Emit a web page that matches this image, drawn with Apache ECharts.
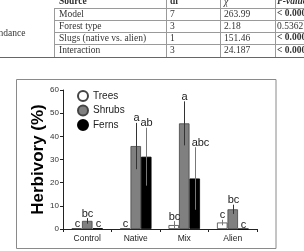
<!DOCTYPE html>
<html>
<head>
<meta charset="utf-8">
<script src="https://cdn.jsdelivr.net/npm/echarts@6/dist/echarts.min.js"></script>
<style>
  html, body { margin: 0; padding: 0; background: #fff; }
  .demo { width: 304px; height: 251px; }
</style>
</head>
<body>
<div class="demo"></div>
<script>
// chart data
const categories = ['Control', 'Native', 'Mix', 'Alien']
const groups = ['Trees', 'Shrubs', 'Ferns']
const treesMean = [0.3, 0.2, 1.7, 2.8]
const treesErr = [0, 0, 1.7, 1.2]
const shrubsMean = [3.5, 35.8, 45.6, 8.5]
const shrubsErr = [1.2, 10, 9.5, 2]
const fernsMean = [0.3, 31.2, 21.8, 0]
const fernsErr = [0, 12.5, 13.5, 0]
const treesLetters = ['c', 'c', 'bc', 'c']
const shrubsLetters = ['bc', 'a', 'a', 'bc']
const fernsLetters = ['c', 'ab', 'abc', 'c']
const yTicks = [0, 10, 20, 30, 40, 50, 60]

// table (cropped at top of the picture)
const tableHeader = ['Source', 'df', 'χ', 'P-value']
const tableSource = ['Model', 'Forest type', 'Slugs (native vs. alien)', 'Interaction']
const tableDf = ['7', '3', '1', '3']
const tableChi = ['263.99', '2.18', '151.46', '24.187']
const tableP = ['< 0.0001', '0.5362', '< 0.0001', '< 0.0001']

;(function () {
  const chartinstance = echarts.init(document.querySelector('.demo'))
  const means = [treesMean, shrubsMean, fernsMean]
  const errs = [treesErr, shrubsErr, fernsErr]
  const letters = [treesLetters, shrubsLetters, fernsLetters]
  const fills = ['#ffffff', '#808080', '#000000']
  const borders = ['#444', '#444', '#000']
  const barW = 10.5
  const sans = 'Liberation Sans'

  // table drawn with graphic elements
  const colX = [59, 170, 224, 277]
  const rowY = [2, 14, 26, 38, 50.5]
  const tableGraphic = []
  const line = (x1, y1, x2, y2, w, c) => tableGraphic.push({
    type: 'line', silent: true,
    shape: { x1: x1, y1: y1, x2: x2, y2: y2 },
    style: { stroke: c || '#9a9a9a', lineWidth: w || 1 }
  })
  const txt = (s, x, y, weight, italic, align) => tableGraphic.push({
    type: 'text', silent: true, x: x, y: y,
    style: {
      text: s, fontSize: 9.5, fontFamily: 'Liberation Serif',
      fontWeight: weight ? 'bold' : 'normal', fontStyle: italic ? 'italic' : 'normal',
      fill: '#333', align: align || 'left', verticalAlign: 'middle'
    }
  })
  ;[8, 20, 32, 44].forEach(y => line(54, y + 0.5, 304, y + 0.5))
  line(0, 57.5, 304, 57.5, 1.2, '#666')
  line(54.5, 8, 54.5, 57)
  line(166.5, 0, 166.5, 57)
  line(220.5, 0, 220.5, 57)
  line(275.5, 0, 275.5, 57)
  txt(tableHeader[0], colX[0], rowY[0], true, false)
  txt(tableHeader[1], colX[1], rowY[0], true, false)
  txt(tableHeader[2], colX[2], rowY[0], false, true)
  txt(tableHeader[3], colX[3], rowY[0], true, true)
  txt('Abundance', 25.5, 33, false, false, 'right')
  for (let i = 0; i < tableSource.length; i++) {
    txt(tableSource[i], colX[0], rowY[i + 1])
    txt(tableDf[i], colX[1], rowY[i + 1])
    txt(tableChi[i], colX[2], rowY[i + 1])
    txt(tableP[i], colX[3], rowY[i + 1], tableP[i].indexOf('<') === 0, false)
  }
  // chart frame
  tableGraphic.push({
    type: 'rect', silent: true, z: -1,
    shape: { x: 16.5, y: 79.5, width: 259.5, height: 169 },
    style: { fill: 'none', stroke: '#8a8a8a', lineWidth: 1 }
  })

  const barSeries = groups.map((g, k) => ({
    name: g,
    type: 'bar',
    barWidth: barW,
    barGap: '0%',
    data: means[k],
    itemStyle: { color: fills[k], borderColor: borders[k], borderWidth: 0.8 },
    z: 2
  }))

  const errSeries = groups.map((g, k) => ({
    name: g + ' err',
    type: 'custom',
    z: 5,
    data: categories.map((c, i) => [i, means[k][i], errs[k][i]]),
    renderItem: function (params, api) {
      const i = api.value(0)
      const m = api.value(1)
      const e = api.value(2)
      const x = Math.round(api.coord([i, 0])[0] + (k - 1) * barW) + 0.5
      const yTop = api.coord([i, m + e])[1]
      const yBot = api.coord([i, Math.max(0, m - e)])[1]
      const children = []
      if (e > 0) {
        children.push({
          type: 'line',
          shape: { x1: x, y1: yTop, x2: x, y2: yBot },
          style: { stroke: k === 1 ? '#333' : '#777', lineWidth: 1 }
        })
      }
      // "abc" is nudged right in the original to clear the shrub error bar
      const shift = letters[k][i] === 'abc' ? 5 : 0
      children.push({
        type: 'text',
        x: x + shift,
        y: yTop + 1,
        style: {
          text: letters[k][i],
          fontSize: 11,
          fontFamily: sans,
          fill: '#222',
          align: 'center',
          verticalAlign: 'bottom'
        }
      })
      return { type: 'group', children: children }
    }
  }))

  const option = {
    animation: false,
    graphic: tableGraphic,
    grid: { left: 63, right: 47, top: 90, bottom: 22 },
    legend: {
      data: groups,
      orient: 'vertical',
      left: 77,
      top: 90,
      padding: 0,
      icon: 'circle',
      itemWidth: 10,
      itemHeight: 10,
      itemGap: 2.5,
      textStyle: { fontSize: 10, lineHeight: 10, color: '#222', fontFamily: sans }
    },
    xAxis: {
      type: 'category',
      data: categories,
      axisLine: { lineStyle: { color: '#222', width: 1 } },
      axisTick: { show: true, length: 3, lineStyle: { color: '#222' } },
      axisLabel: { fontSize: 8.5, color: '#222', margin: 5, fontFamily: sans }
    },
    yAxis: {
      type: 'value',
      min: yTicks[0],
      max: yTicks[yTicks.length - 1],
      interval: 10,
      name: 'Herbivory (%)',
      nameLocation: 'middle',
      nameRotate: 90,
      nameGap: 16,
      nameMoveOverlap: false,
      nameTextStyle: { fontSize: 17, fontWeight: 'bold', color: '#000', fontFamily: sans },
      splitLine: { show: false },
      axisLine: { show: true, lineStyle: { color: '#222', width: 1 } },
      axisTick: { show: true, length: 3, lineStyle: { color: '#222' } },
      axisLabel: { fontSize: 8, color: '#333', margin: 4, fontFamily: sans }
    },
    series: barSeries.concat(errSeries)
  }
  option && chartinstance.setOption(option)
  window.addEventListener('resize', () => {
    chartinstance.resize()
  })
})()
</script>
</body>
</html>
